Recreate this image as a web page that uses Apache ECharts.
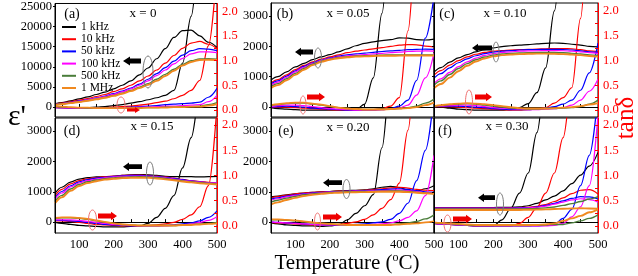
<!DOCTYPE html>
<html><head><meta charset="utf-8">
<script src="https://cdn.jsdelivr.net/npm/echarts/dist/echarts.min.js"></script>
<style>html,body{margin:0;padding:0;background:#fff}#c{width:638px;height:276px}</style>
</head><body><div id="c"></div>
<script>
const T = [30,50,75,100,125,150,175,200,225,250,275,300,325,350,375,400,425,450,475,500];
const freqs = ['1 kHz','10 kHz','50 kHz','100 kHz','500 kHz','1 MHz'];
const panelTags = ['(a)','(b)','(c)','(d)','(e)','(f)'];
const compTags = ['x = 0','x = 0.05','x = 0.10','x = 0.15','x = 0.20','x = 0.30'];
const xTicks = [50,100,150,200,250,300,350,400,450,500];
const xLabels = [100,200,300,400,500];
const epsTicksA = [0,5000,10000,15000,20000,25000];
const epsTicks = [0,1000,2000,3000];
const tanTicks = [0,0.5,1.0,1.5,2.0];
const tanMinor = [0,0.25,0.5,0.75,1.0,1.25,1.5,1.75,2.0];

const epsA = [
[800,1100,1500,2000,2500,3100,3700,4500,5400,6500,8000,9700,12000,14500,17300,19000,19100,17700,16100,14800],
[700,950,1300,1700,2100,2600,3100,3800,4500,5400,6500,7700,9200,10900,12800,14600,15900,16300,15600,14500],
[650,850,1150,1500,1850,2250,2700,3300,3950,4700,5700,6900,8300,9800,11400,12900,14000,14500,14400,14000],
[600,800,1100,1400,1750,2150,2600,3150,3750,4500,5400,6500,7800,9200,10700,12100,13200,13700,13700,13500],
[550,750,1000,1300,1600,1950,2350,2850,3400,4100,4900,5800,6900,8100,9400,10600,11500,11950,12000,11900],
[500,700,950,1250,1550,1900,2300,2750,3300,3950,4700,5500,6500,7700,9000,10300,11200,11700,11750,11700]];
const tanA = [
[0.06,0.05,0.05,0.05,0.05,0.06,0.07,0.09,0.11,0.14,0.17,0.21,0.25,0.30,0.40,0.95,1.90,3.2,4.5,6.0],
[0.05,0.05,0.04,0.04,0.04,0.04,0.05,0.06,0.07,0.08,0.10,0.12,0.15,0.18,0.23,0.30,0.40,0.60,1.30,2.9],
[0.05,0.05,0.04,0.04,0.04,0.04,0.04,0.05,0.05,0.06,0.07,0.08,0.09,0.11,0.12,0.13,0.14,0.16,0.26,0.44],
[0.05,0.05,0.04,0.04,0.04,0.04,0.04,0.04,0.05,0.05,0.06,0.06,0.07,0.08,0.08,0.09,0.10,0.11,0.17,0.30],
[0.07,0.06,0.05,0.05,0.04,0.04,0.04,0.04,0.04,0.04,0.05,0.05,0.05,0.06,0.06,0.07,0.07,0.08,0.11,0.15],
[0.08,0.07,0.06,0.05,0.05,0.04,0.04,0.04,0.04,0.04,0.04,0.05,0.05,0.05,0.06,0.06,0.07,0.07,0.09,0.12]];
const epsB = [
[890,1000,1160,1320,1440,1560,1650,1730,1820,1920,2020,2100,2150,2190,2220,2280,2270,2220,2210,2240],
[790,900,1060,1230,1370,1490,1580,1650,1720,1790,1840,1880,1920,1960,2000,2040,2060,2050,2010,1980],
[760,860,1020,1190,1340,1460,1550,1620,1680,1720,1750,1780,1800,1830,1850,1870,1890,1900,1910,1900],
[720,820,980,1160,1310,1440,1530,1600,1650,1690,1710,1730,1750,1770,1790,1810,1830,1840,1850,1840],
[670,770,930,1110,1270,1410,1510,1580,1630,1660,1680,1690,1700,1710,1715,1720,1720,1720,1720,1720],
[620,720,880,1060,1230,1380,1490,1560,1610,1640,1660,1670,1680,1690,1690,1695,1700,1700,1700,1700]];
const tanB = [
[0.05,0.03,0.02,0.01,0.0,0.0,0.0,0.0,0.0,0.0,0.01,0.12,0.65,1.95,3.8,5,6,7,8,9],
[0.05,0.06,0.06,0.05,0.04,0.03,0.02,0.01,0.0,0.0,0.0,0.0,0.01,0.03,0.08,0.25,1.6,3.5,5,6],
[0.06,0.07,0.08,0.07,0.06,0.04,0.03,0.02,0.01,0.0,0.0,0.0,0.0,0.01,0.03,0.08,0.20,0.60,1.45,2.3],
[0.07,0.09,0.10,0.10,0.09,0.07,0.05,0.03,0.02,0.01,0.0,0.0,0.0,0.01,0.02,0.04,0.10,0.30,0.65,1.15],
[0.09,0.11,0.13,0.14,0.14,0.12,0.10,0.07,0.05,0.03,0.02,0.01,0.01,0.02,0.02,0.03,0.05,0.08,0.14,0.22],
[0.10,0.12,0.14,0.15,0.15,0.13,0.11,0.08,0.05,0.03,0.02,0.01,0.01,0.01,0.02,0.03,0.04,0.06,0.10,0.15]];
const epsC = [
[1150,1300,1480,1620,1730,1820,1890,1950,1990,2020,2040,2060,2080,2100,2110,2100,2070,2040,2000,1980],
[1050,1200,1380,1530,1650,1740,1800,1840,1860,1880,1890,1900,1910,1920,1925,1930,1920,1890,1850,1830],
[950,1100,1290,1460,1590,1690,1760,1810,1840,1860,1880,1890,1895,1900,1900,1895,1880,1850,1820,1800],
[780,930,1140,1330,1490,1610,1700,1760,1800,1820,1840,1850,1855,1860,1860,1855,1840,1820,1790,1770],
[720,860,1070,1270,1430,1560,1650,1710,1750,1770,1780,1790,1795,1800,1795,1790,1770,1750,1720,1700],
[620,760,970,1180,1360,1500,1600,1670,1710,1730,1745,1755,1760,1760,1755,1745,1730,1710,1680,1660]];
const tanC = [
[0.08,0.06,0.04,0.02,0.01,0.0,0.0,0.0,0.0,0.01,0.05,0.13,0.35,0.85,2.0,3.5,5,6,7,8],
[0.07,0.07,0.07,0.06,0.05,0.04,0.03,0.02,0.01,0.0,0.0,0.01,0.02,0.05,0.14,0.25,0.45,1.85,4,6],
[0.07,0.08,0.08,0.08,0.07,0.06,0.05,0.03,0.02,0.01,0.01,0.01,0.02,0.04,0.07,0.12,0.20,0.40,0.75,1.35],
[0.07,0.08,0.09,0.10,0.10,0.09,0.07,0.05,0.04,0.03,0.02,0.01,0.01,0.02,0.03,0.05,0.10,0.20,0.38,0.62],
[0.07,0.09,0.11,0.12,0.13,0.12,0.10,0.08,0.06,0.04,0.03,0.02,0.02,0.03,0.03,0.04,0.05,0.07,0.12,0.20],
[0.08,0.10,0.12,0.13,0.14,0.13,0.12,0.10,0.08,0.06,0.04,0.03,0.03,0.03,0.04,0.05,0.06,0.08,0.11,0.14]];
const epsD = [
[950,1150,1320,1420,1470,1490,1500,1510,1540,1560,1570,1560,1540,1510,1500,1500,1500,1490,1500,1510],
[870,1080,1260,1370,1430,1470,1500,1520,1540,1550,1550,1540,1520,1490,1450,1410,1370,1340,1310,1290],
[800,1010,1200,1330,1400,1450,1480,1510,1530,1540,1540,1530,1510,1480,1440,1400,1360,1330,1300,1280],
[760,960,1160,1290,1370,1420,1460,1490,1510,1520,1520,1510,1490,1460,1420,1380,1350,1320,1300,1290],
[680,880,1090,1240,1330,1390,1430,1460,1480,1490,1495,1490,1470,1440,1400,1360,1330,1300,1280,1260],
[620,820,1030,1190,1290,1350,1400,1430,1450,1460,1465,1460,1440,1410,1380,1340,1310,1280,1260,1240]];
const tanD = [
[0.07,0.05,0.03,0.01,0.0,-0.01,-0.02,-0.02,-0.02,-0.01,0.0,0.05,0.17,0.35,0.60,1.15,1.75,2.6,3.5,4.5],
[0.10,0.10,0.09,0.07,0.05,0.03,0.02,0.01,0.0,0.0,0.0,0.01,0.02,0.04,0.07,0.13,0.22,0.38,0.80,2.4],
[0.11,0.11,0.10,0.09,0.07,0.05,0.03,0.02,0.01,0.0,0.0,0.0,0.0,0.01,0.02,0.04,0.06,0.10,0.17,0.30],
[0.12,0.12,0.12,0.11,0.09,0.07,0.05,0.03,0.02,0.01,0.0,0.0,0.0,0.0,0.01,0.02,0.04,0.07,0.11,0.18],
[0.15,0.16,0.16,0.15,0.13,0.10,0.07,0.05,0.03,0.02,0.01,0.01,0.01,0.01,0.01,0.02,0.03,0.04,0.05,0.07],
[0.16,0.17,0.17,0.16,0.14,0.11,0.08,0.05,0.03,0.02,0.01,0.01,0.01,0.01,0.01,0.02,0.02,0.03,0.04,0.05]];
const epsE = [
[830,860,900,930,960,980,1000,1010,1030,1040,1050,1060,1100,1150,1180,1140,1050,1020,1100,1200],
[800,840,890,930,960,980,1000,1010,1020,1030,1040,1050,1070,1100,1130,1150,1120,1080,1050,1040],
[760,800,860,900,940,965,985,1000,1010,1020,1030,1040,1050,1070,1090,1100,1080,1040,1000,980],
[720,770,830,880,920,950,970,990,1000,1010,1020,1025,1030,1040,1050,1060,1040,1010,970,950],
[660,720,790,850,900,930,955,975,990,1000,1005,1010,1015,1020,1025,1030,1010,980,960,940],
[580,650,730,800,860,900,930,955,970,980,985,990,995,1000,1000,1000,990,970,950,930]];
const tanE = [
[0.06,0.04,0.02,0.01,0.0,0.0,-0.01,0.0,0.02,0.12,0.25,0.40,0.62,1.55,3.0,4.5,6,7,8,9],
[0.07,0.06,0.05,0.04,0.03,0.02,0.02,0.02,0.03,0.05,0.08,0.13,0.22,0.35,0.52,0.85,1.9,3.5,5,6],
[0.08,0.07,0.06,0.05,0.04,0.03,0.02,0.02,0.02,0.02,0.03,0.04,0.06,0.08,0.13,0.25,0.45,0.90,1.50,2.6],
[0.08,0.07,0.06,0.05,0.04,0.03,0.02,0.02,0.02,0.02,0.02,0.02,0.03,0.04,0.06,0.10,0.17,0.30,0.60,1.40],
[0.12,0.12,0.11,0.10,0.08,0.06,0.05,0.04,0.03,0.02,0.02,0.02,0.02,0.02,0.03,0.04,0.06,0.09,0.14,0.22],
[0.13,0.13,0.12,0.11,0.09,0.07,0.05,0.04,0.03,0.02,0.02,0.02,0.02,0.02,0.02,0.03,0.04,0.05,0.07,0.09]];
const epsF = [
[480,480,480,480,480,480,480,480,485,490,500,540,620,730,860,1030,1270,1550,1850,2300],
[470,470,470,470,470,470,470,470,470,475,480,490,520,580,680,800,940,1050,1070,930],
[460,460,460,460,460,460,460,460,460,465,470,480,500,550,620,700,780,840,830,760],
[450,450,450,450,450,450,450,450,450,455,460,470,490,530,590,660,730,770,740,660],
[430,430,430,430,430,430,430,430,430,430,435,440,450,470,500,550,610,680,760,840],
[400,400,400,400,400,400,400,400,400,400,400,405,410,420,430,440,450,455,450,440]];
const tanF = [
[0.05,0.04,0.03,0.02,0.01,0.0,0.0,0.0,0.12,0.35,0.65,1.05,1.85,3.0,4.5,6,7,8,9,10],
[0.05,0.04,0.03,0.02,0.01,0.0,0.0,0.0,0.0,0.0,0.05,0.17,0.37,0.65,1.05,1.75,2.8,4,5,6],
[0.05,0.04,0.03,0.02,0.01,0.0,0.0,0.0,0.0,0.0,0.0,0.0,0.0,0.01,0.03,0.15,0.33,0.80,1.40,2.6],
[0.05,0.04,0.03,0.02,0.01,0.0,0.0,0.0,0.0,0.0,0.0,0.0,0.0,0.0,0.01,0.05,0.18,0.38,0.80,2.2],
[0.06,0.05,0.04,0.03,0.02,0.01,0.01,0.01,0.01,0.01,0.01,0.01,0.02,0.02,0.03,0.03,0.06,0.10,0.15,0.22],
[0.07,0.06,0.05,0.04,0.03,0.02,0.02,0.02,0.02,0.02,0.02,0.02,0.02,0.03,0.05,0.10,0.15,0.20,0.27,0.33]];

const colors = ['#000000','#ff0000','#0000ff','#ff00ff','#4a7d3a','#f0891f'];
const widths = [1.2,1.2,1.2,1.2,1.4,1.9];
const FONT = 'Liberation Serif';

const grids = [
 {left:55, top:3, width:162, height:114},
 {left:271, top:3, width:163, height:114},
 {left:434, top:3, width:164, height:114},
 {left:55, top:118, width:162, height:115},
 {left:271, top:118, width:163, height:115},
 {left:434, top:118, width:164, height:115}];
const epsRange = [[-2500,25750],[-330,3430],[-330,3430],[-360,3435],[-360,3435],[-360,3435]];
const tanRange = [[-0.14,2.16],[-0.14,2.16],[-0.14,2.16],[-0.14,2.14],[-0.14,2.14],[-0.14,2.14]];
const showEpsLabels = [true,true,false,true,true,false];
const showTanAxis = [true,false,true,true,false,true];
const eps = [epsA,epsB,epsC,epsD,epsE,epsF];
const tan = [tanA,tanB,tanC,tanD,tanE,tanF];

const xAxis = [], yAxis = [], series = [];
grids.forEach((g,i)=>{
  xAxis.push({type:'value', gridIndex:i, min:30, max:500,
    axisLine:{show:true, lineStyle:{color:'#000', width:1}},
    axisTick:{show:true, inside:true, length:3, customValues:xTicks, lineStyle:{color:'#000'}},
    axisLabel:{show:i>=3, customValues:xLabels, formatter:v=>String(v), fontFamily:FONT, fontSize:12.5, color:'#000', margin:5},
    splitLine:{show:false}});
  yAxis.push({type:'value', gridIndex:i, position:'left', min:epsRange[i][0], max:epsRange[i][1],
    axisLine:{show:true, lineStyle:{color:'#000', width:1}},
    axisTick:{show:true, inside:false, length:2, customValues:(i===0?epsTicksA:epsTicks), lineStyle:{color:'#000'}},
    axisLabel:{show:showEpsLabels[i], customValues:(i===0?epsTicksA:epsTicks), formatter:v=>String(v), fontFamily:FONT, fontSize:12.5, color:'#000', margin:3},
    splitLine:{show:false}, z:3});
  yAxis.push({type:'value', gridIndex:i, position:'right', min:tanRange[i][0], max:tanRange[i][1],
    axisLine:{show:showTanAxis[i], lineStyle:{color:'#ff0000', width:1}},
    axisTick:{show:showTanAxis[i], inside:true, length:3, customValues:tanMinor, lineStyle:{color:'#ff0000'}},
    axisLabel:{show:showTanAxis[i], customValues:tanTicks, formatter:v=>v.toFixed(1), fontFamily:FONT, fontSize:12.5, color:'#ff0000', margin:5},
    splitLine:{show:false}, z:4});
  freqs.forEach((f,k)=>{
    const base = {type:'line', name:f, xAxisIndex:i, symbol:'none', smooth:0.35, smoothMonotone:'x',
      clip:true, silent:true, color:colors[k], lineStyle:{color:colors[k], width:widths[k]}, z:2};
    series.push(Object.assign({}, base, {yAxisIndex:2*i, data:T.map((t,j)=>[t, eps[i][k][j]])}));
    series.push(Object.assign({}, base, {yAxisIndex:2*i+1, data:T.map((t,j)=>[t, tan[i][k][j]])}));
  });
});

const graphic = [];
const tagPos = [[72,14],[285,14],[447,14],[72,131],[286,131],[445,131]];
const compPos = [[143,14],[348,14],[505,14],[152,127],[348,128],[507,127]];
tagPos.forEach((p,i)=>graphic.push({type:'text', x:p[0], y:p[1], z:10,
  style:{text:panelTags[i], fontFamily:FONT, fontSize:14, fill:'#000', align:'center', verticalAlign:'middle'}}));
compPos.forEach((p,i)=>graphic.push({type:'text', x:p[0], y:p[1], z:10,
  style:{text:compTags[i], fontFamily:FONT, fontSize:13, fill:'#000', align:'center', verticalAlign:'middle'}}));
const grayEll = [[148,72,5,16],[318,58,3.5,10],[496,52,3,10],[150,173.5,3.5,11.5],[346.5,189,3.5,9.5],[500,204,3.5,11]];
const redEll = [[121,105,4,8],[303,105,3,9],[469,102,3.5,12],[92.5,220,4,10],[317.5,221.5,3,8.5],[447.5,223.5,3.5,8.5]];
grayEll.forEach(e=>graphic.push({type:'ellipse', z:9, shape:{cx:e[0],cy:e[1],rx:e[2],ry:e[3]}, style:{fill:null, stroke:'#7a7a7a', lineWidth:1}}));
redEll.forEach(e=>graphic.push({type:'ellipse', z:9, shape:{cx:e[0],cy:e[1],rx:e[2],ry:e[3]}, style:{fill:null, stroke:'#f07070', lineWidth:1}}));
function arrow(tip, tail, y, bh, hh, hl, color){
  const d = tail > tip ? 1 : -1;
  const hb = tip + d*hl;
  return {type:'polygon', z:9, shape:{points:[[tip,y],[hb,y-hh],[hb,y-bh],[tail,y-bh],[tail,y+bh],[hb,y+bh],[hb,y+hh]]}, style:{fill:color}};
}
const blackArrows = [[123,141,61,2.6,4.6,7],[295,313,52,2.4,4.2,6],[472,492,48,2.4,4.2,6],[123,142,166.7,2.4,4.2,6],[323,342,182.7,2.4,4.2,6],[478,495,197.7,2.4,4.2,6]];
const redArrows = [[140,127,110,1.4,3,5],[325,307,97,2.4,4.2,6],[492,475,97,2.4,4.2,6],[117,98,216,2.4,4.2,6],[342,323,217,2.4,4.2,6],[472,453,219,2.4,4.2,6]];
blackArrows.forEach(a=>graphic.push(arrow(a[0],a[1],a[2],a[3],a[4],a[5],'#000')));
redArrows.forEach(a=>graphic.push(arrow(a[0],a[1],a[2],a[3],a[4],a[5],'#ee0000')));
graphic.push({type:'text', x:17, y:117, z:10, style:{text:"ε'", fontFamily:FONT, fontSize:30, fill:'#000', align:'center', verticalAlign:'middle'}});
graphic.push({type:'text', x:626, y:118, rotation:Math.PI/2, z:10, style:{text:'tanδ', fontFamily:FONT, fontSize:25, fill:'#ff0000', align:'center', verticalAlign:'middle'}});
graphic.push({type:'text', x:347, y:263, z:10, style:{text:'Temperature ({s|o}C)', fontFamily:FONT, fontSize:21, fill:'#000', align:'center', verticalAlign:'middle',
  rich:{s:{fontFamily:FONT, fontSize:12, fill:'#000', padding:[0,0,11,0]}}}});

const chart = echarts.init(document.getElementById('c'), null, {renderer:'canvas'});
chart.setOption({
  animation:false,
  backgroundColor:'#fff',
  grid: grids.map(g=>Object.assign({show:true, borderColor:'#000', borderWidth:1, backgroundColor:'transparent'}, g)),
  xAxis, yAxis, series,
  legend:{data:freqs, orient:'vertical', left:62, top:21, padding:0, icon:'rect', itemWidth:14, itemHeight:2, itemGap:0.2,
    textStyle:{fontFamily:FONT, fontSize:11.5, lineHeight:11, color:'#000'}, selectedMode:false},
  graphic
});
</script></body></html>
